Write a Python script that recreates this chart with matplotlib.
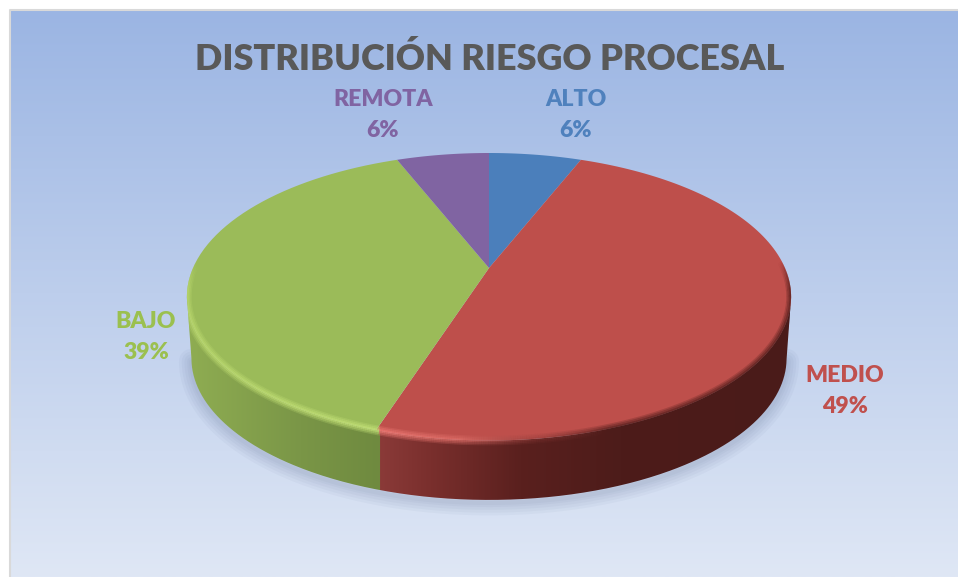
import numpy as np
import matplotlib
matplotlib.use('Agg')
import matplotlib.pyplot as plt
from matplotlib.collections import LineCollection
from matplotlib.colors import to_rgb
from matplotlib.patches import PathPatch
from matplotlib.path import Path
from matplotlib.transforms import Affine2D, Transform

# data
names = ['ALTO', 'MEDIO', 'BAJO', 'REMOTA']
percents = [6, 49, 39, 6]
title = 'DISTRIBUCIÓN RIESGO PROCESAL'

# styles
face_colors = ['#4B7FBB', '#BE4F4B', '#9BBB59', '#8064A2']
text_colors = ['#4F81BD', '#C0504D', '#9BC04F', '#8064A2']
label_pos = [(576, 115), (845, 391), (146, 337), (383, 115)]

plt.rcParams['font.family'] = ['Lato', 'DejaVu Sans']

CX, CY, RX, RY, K = 489, 268, 296, 138, 0.2
DEPTH, SHRINK = 62, 0.985


# tilted disc seen in perspective, unit circle -> pixel coordinates
def project(x, y, scale=1.0, dy=0.0):
    w = 1 + K * y
    return CX + scale * RX * x / w, CY + dy - scale * RY * y / w


class Tilt(Transform):
    input_dims = 2
    output_dims = 2

    def transform_non_affine(self, values):
        px, py = project(values[:, 0], values[:, 1])
        return np.column_stack([px, py])

    def transform_path_non_affine(self, path):
        poly = path.to_polygons(Affine2D().scale(800), closed_only=True)[0] / 800
        return Path(self.transform_non_affine(poly), closed=True)


def rim(t, scale=1.0, dy=0.0):
    return np.column_stack(project(np.cos(t), np.sin(t), scale, dy))


fig = plt.figure(figsize=(9.58, 5.77), dpi=100, facecolor='white')
ax = fig.add_axes([0, 0, 1, 1])

wedges, _ = ax.pie(percents, startangle=90, counterclock=False, colors=face_colors,
                   wedgeprops={'linewidth': 0, 'zorder': 5})
tilt = Tilt()
for w in wedges:
    w.set_transform(tilt + ax.transData)

# background
bg = np.linspace(0, 1, 256)[:, None, None]
top_c, bottom_c = np.array(to_rgb('#9BB5E3')), np.array(to_rgb('#DFE7F5'))
ax.imshow(top_c + (bottom_c - top_c) * bg, extent=[10, 958, 577, 10], aspect='auto', zorder=0)
ax.plot([10, 10, 958], [577, 10, 10], color='#D9D9D9', lw=1.5, zorder=1)

# widest points of the disc on screen
side = np.arcsin(K)
t_front = np.linspace(-np.pi + side, -side, 400)
t_back = np.linspace(-side, np.pi + side, 400)

# soft shadow under the wall
shadow = rim(t_front, SHRINK, DEPTH + 3)
for lw in [18, 14, 10, 6, 3]:
    ax.plot(shadow[:, 0], shadow[:, 1], color='#4A5A80', alpha=0.045, lw=lw, zorder=2,
            solid_capstyle='round')

# side wall, colour change where MEDIO meets BAJO
split = rim(np.radians([wedges[1].theta1]))[0, 0]
wall_x = np.array([187, 300, split + 3, split + 4, 430, 520, 620, 791])
wall_c = np.array([to_rgb(c) for c in ['#8FAD52', '#7A9647', '#6F8A3F', '#8A3A38', '#7A2F2D',
                                       '#5A201E', '#4D1C1A', '#4A1B19']])
xs = np.arange(180, 800)
wall_img = np.stack([np.interp(xs, wall_x, wall_c[:, i]) for i in range(3)], axis=1)[None, :, :]
im = ax.imshow(wall_img, extent=[180, 800, 510, 140], aspect='auto', zorder=3)
wall_poly = np.vstack([rim(t_front), rim(t_front[::-1], SHRINK, DEPTH)])
clip = PathPatch(Path(wall_poly, closed=False), transform=ax.transData, fc='none', lw=0)
ax.add_patch(clip)
im.set_clip_path(clip)

# whole pie outline keeps the bevel from spilling on the background
outline = np.vstack([rim(t_back), rim(t_front, SHRINK, DEPTH)])
outline_clip = PathPatch(Path(outline, closed=False), transform=ax.transData, fc='none', lw=0)
ax.add_patch(outline_clip)

# bevel along the front edge of the top face
t = np.radians(np.linspace(-250, 68, 900))
pts = rim(t)
mid_x = (pts[:-1, 0] + pts[1:, 0]) / 2
mid_t = (t[:-1] + t[1:]) / 2
bev_x = np.array([187, split + 3, split + 4, 460, 540, 610, 791])
bev_c = np.array([to_rgb(c) for c in ['#BFDD72', '#C6E47A', '#F07C76', '#E0706A', '#8A3A38',
                                      '#4D1C1A', '#4D1C1A']])
bev_a = np.array([0.9, 1.0, 1.0, 0.9, 0.45, 0.9, 0.9])
rgba = np.zeros((len(mid_x), 4))
for i in range(3):
    rgba[:, i] = np.interp(mid_x, bev_x, bev_c[:, i])
front = np.clip((0.05 - np.sin(mid_t)) / 0.2, 0, 1)
rgba[:, 3] = np.interp(mid_x, bev_x, bev_a) * front
segs = np.stack([pts[:-1], pts[1:]], axis=1)
for lw, k in [(7, 0.25), (5, 0.35), (2.5, 0.5)]:
    c = rgba.copy()
    c[:, 3] *= k
    lc = LineCollection(segs, colors=c, linewidths=lw, zorder=6, capstyle='butt')
    ax.add_collection(lc)
    lc.set_clip_path(outline_clip)

# texts
ax.text(490, 59, title, ha='center', va='center', fontsize=25.9, fontweight='heavy',
        color='#595959', zorder=8)
for name, pct, col, (x, y) in zip(names, percents, text_colors, label_pos):
    ax.text(x, y, f'{name}\n{pct}%', ha='center', va='center', fontsize=16.6, fontweight='heavy',
            color=col, linespacing=1.6, zorder=8)

ax.set_aspect('auto')
ax.set_xlim(0, 958)
ax.set_ylim(577, 0)
ax.axis('off')
fig.savefig('out.png', dpi=100, facecolor='white')
